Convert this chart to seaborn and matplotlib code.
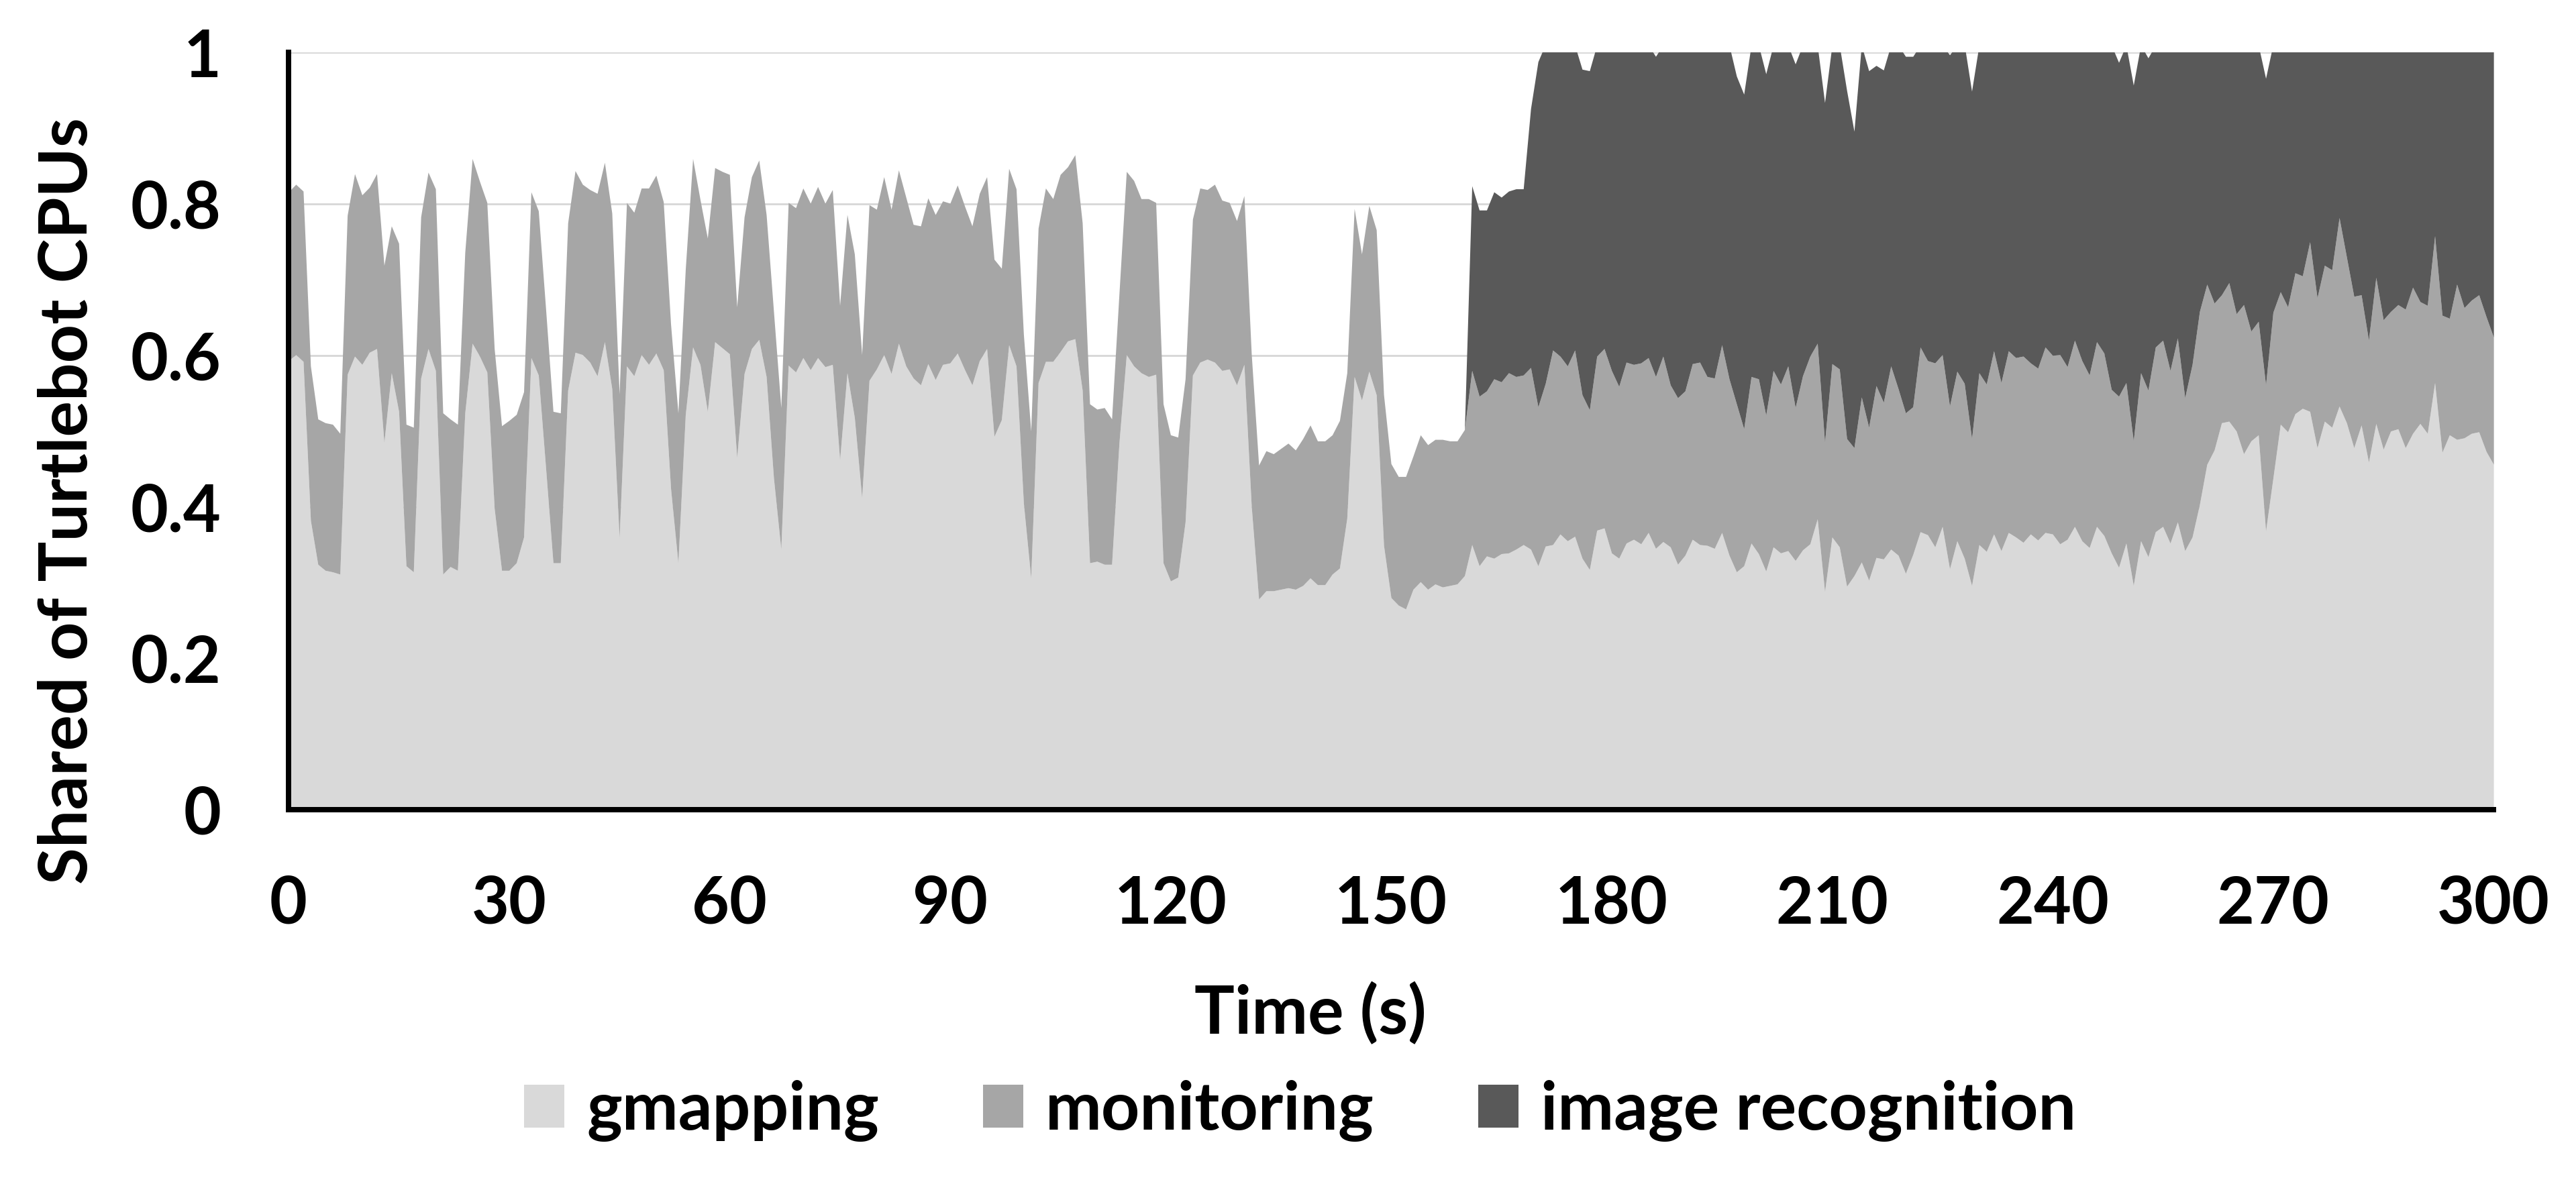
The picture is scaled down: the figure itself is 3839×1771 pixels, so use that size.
import numpy as np
import matplotlib
matplotlib.use("Agg")
import matplotlib.pyplot as plt
import seaborn as sns

# one sample per second, 0..300 s
time_s = np.arange(0, 301)

gmapping = [
    0.593, 0.601, 0.592, 0.382, 0.324, 0.316, 0.314, 0.311, 0.575, 0.599,
    0.588, 0.604, 0.609, 0.485, 0.577, 0.526, 0.322, 0.314, 0.570, 0.609,
    0.580, 0.311, 0.321, 0.316, 0.524, 0.616, 0.599, 0.578, 0.398, 0.316,
    0.316, 0.326, 0.360, 0.597, 0.574, 0.451, 0.326, 0.326, 0.554, 0.604,
    0.601, 0.591, 0.573, 0.618, 0.556, 0.359, 0.586, 0.573, 0.601, 0.588,
    0.603, 0.581, 0.424, 0.326, 0.522, 0.611, 0.588, 0.526, 0.618, 0.610,
    0.602, 0.465, 0.576, 0.609, 0.621, 0.572, 0.438, 0.344, 0.587, 0.578,
    0.597, 0.581, 0.597, 0.585, 0.588, 0.462, 0.577, 0.518, 0.412, 0.567,
    0.582, 0.601, 0.576, 0.616, 0.586, 0.570, 0.561, 0.589, 0.568, 0.588,
    0.590, 0.603, 0.581, 0.561, 0.593, 0.609, 0.493, 0.515, 0.614, 0.586,
    0.405, 0.306, 0.564, 0.592, 0.592, 0.605, 0.619, 0.622, 0.554, 0.326,
    0.328, 0.324, 0.324, 0.484, 0.601, 0.586, 0.577, 0.572, 0.575, 0.326,
    0.302, 0.307, 0.380, 0.574, 0.591, 0.595, 0.591, 0.580, 0.582, 0.561,
    0.588, 0.401, 0.278, 0.289, 0.289, 0.291, 0.293, 0.291, 0.296, 0.306,
    0.297, 0.297, 0.311, 0.319, 0.385, 0.572, 0.541, 0.579, 0.548, 0.349,
    0.280, 0.270, 0.265, 0.291, 0.301, 0.291, 0.298, 0.294, 0.296, 0.298,
    0.309, 0.350, 0.322, 0.335, 0.332, 0.338, 0.339, 0.344, 0.350, 0.344,
    0.322, 0.348, 0.350, 0.364, 0.355, 0.361, 0.332, 0.317, 0.369, 0.372,
    0.339, 0.332, 0.352, 0.357, 0.351, 0.366, 0.345, 0.354, 0.347, 0.324,
    0.336, 0.357, 0.350, 0.349, 0.345, 0.366, 0.336, 0.314, 0.322, 0.352,
    0.338, 0.315, 0.347, 0.339, 0.342, 0.329, 0.343, 0.351, 0.384, 0.288,
    0.360, 0.347, 0.295, 0.309, 0.327, 0.303, 0.333, 0.331, 0.344, 0.336,
    0.312, 0.337, 0.367, 0.363, 0.347, 0.374, 0.318, 0.355, 0.332, 0.296,
    0.350, 0.341, 0.364, 0.342, 0.366, 0.360, 0.353, 0.364, 0.356, 0.366,
    0.364, 0.351, 0.357, 0.374, 0.355, 0.346, 0.374, 0.362, 0.339, 0.320,
    0.352, 0.296, 0.355, 0.334, 0.367, 0.374, 0.352, 0.380, 0.342, 0.360,
    0.403, 0.456, 0.475, 0.511, 0.513, 0.500, 0.470, 0.487, 0.495, 0.368,
    0.438, 0.509, 0.499, 0.523, 0.530, 0.526, 0.478, 0.513, 0.505, 0.533,
    0.511, 0.478, 0.508, 0.459, 0.510, 0.476, 0.500, 0.503, 0.478, 0.497,
    0.510, 0.497, 0.564, 0.472, 0.495, 0.489, 0.491, 0.497, 0.499, 0.473,
    0.456,
]

monitoring = [
    0.223, 0.225, 0.225, 0.204, 0.192, 0.195, 0.195, 0.186, 0.210, 0.241,
    0.224, 0.218, 0.231, 0.234, 0.194, 0.222, 0.187, 0.191, 0.213, 0.233,
    0.240, 0.213, 0.195, 0.193, 0.212, 0.244, 0.231, 0.224, 0.211, 0.191,
    0.198, 0.196, 0.192, 0.219, 0.217, 0.210, 0.200, 0.198, 0.221, 0.240,
    0.225, 0.228, 0.241, 0.237, 0.232, 0.190, 0.216, 0.216, 0.220, 0.233,
    0.235, 0.222, 0.217, 0.198, 0.192, 0.249, 0.218, 0.229, 0.230, 0.233,
    0.237, 0.199, 0.207, 0.227, 0.237, 0.214, 0.220, 0.187, 0.215, 0.217,
    0.224, 0.220, 0.226, 0.216, 0.231, 0.204, 0.209, 0.216, 0.189, 0.232,
    0.211, 0.235, 0.217, 0.229, 0.223, 0.203, 0.210, 0.219, 0.218, 0.216,
    0.211, 0.222, 0.216, 0.210, 0.221, 0.227, 0.234, 0.200, 0.233, 0.234,
    0.223, 0.194, 0.204, 0.229, 0.215, 0.234, 0.230, 0.243, 0.221, 0.210,
    0.201, 0.207, 0.192, 0.197, 0.242, 0.245, 0.230, 0.235, 0.227, 0.210,
    0.193, 0.185, 0.189, 0.206, 0.230, 0.224, 0.235, 0.225, 0.220, 0.217,
    0.223, 0.201, 0.177, 0.185, 0.181, 0.186, 0.191, 0.184, 0.194, 0.202,
    0.190, 0.190, 0.184, 0.195, 0.192, 0.222, 0.193, 0.219, 0.218, 0.199,
    0.177, 0.170, 0.175, 0.176, 0.194, 0.191, 0.191, 0.195, 0.191, 0.189,
    0.193, 0.230, 0.224, 0.218, 0.237, 0.227, 0.238, 0.228, 0.224, 0.240,
    0.210, 0.215, 0.257, 0.235, 0.231, 0.246, 0.216, 0.211, 0.230, 0.237,
    0.241, 0.227, 0.239, 0.231, 0.239, 0.231, 0.227, 0.245, 0.214, 0.220,
    0.217, 0.232, 0.241, 0.223, 0.225, 0.248, 0.233, 0.222, 0.181, 0.220,
    0.231, 0.206, 0.233, 0.223, 0.244, 0.202, 0.230, 0.248, 0.232, 0.197,
    0.229, 0.235, 0.195, 0.169, 0.218, 0.202, 0.227, 0.207, 0.242, 0.220,
    0.212, 0.195, 0.244, 0.230, 0.243, 0.227, 0.215, 0.224, 0.231, 0.194,
    0.227, 0.221, 0.242, 0.222, 0.240, 0.237, 0.246, 0.226, 0.227, 0.245,
    0.236, 0.250, 0.228, 0.246, 0.238, 0.228, 0.244, 0.241, 0.216, 0.226,
    0.212, 0.191, 0.222, 0.220, 0.244, 0.246, 0.228, 0.243, 0.202, 0.228,
    0.255, 0.238, 0.194, 0.169, 0.183, 0.155, 0.197, 0.145, 0.150, 0.193,
    0.219, 0.175, 0.165, 0.186, 0.175, 0.224, 0.198, 0.206, 0.208, 0.249,
    0.219, 0.200, 0.172, 0.161, 0.193, 0.171, 0.158, 0.164, 0.183, 0.193,
    0.161, 0.169, 0.194, 0.181, 0.154, 0.205, 0.172, 0.176, 0.181, 0.178,
    0.168,
]

image_recognition = [
    0, 0, 0, 0, 0, 0, 0, 0, 0, 0, 0, 0, 0, 0, 0, 0, 0, 0, 0, 0,
    0, 0, 0, 0, 0, 0, 0, 0, 0, 0, 0, 0, 0, 0, 0, 0, 0, 0, 0, 0,
    0, 0, 0, 0, 0, 0, 0, 0, 0, 0, 0, 0, 0, 0, 0, 0, 0, 0, 0, 0,
    0, 0, 0, 0, 0, 0, 0, 0, 0, 0, 0, 0, 0, 0, 0, 0, 0, 0, 0, 0,
    0, 0, 0, 0, 0, 0, 0, 0, 0, 0, 0, 0, 0, 0, 0, 0, 0, 0, 0, 0,
    0, 0, 0, 0, 0, 0, 0, 0, 0, 0, 0, 0, 0, 0, 0, 0, 0, 0, 0, 0,
    0, 0, 0, 0, 0, 0, 0, 0, 0, 0, 0, 0, 0, 0, 0, 0, 0, 0, 0, 0,
    0, 0, 0, 0, 0, 0, 0, 0, 0, 0, 0, 0, 0, 0, 0, 0, 0, 0, 0, 0,
    0,
    0.244, 0.246, 0.239, 0.247, 0.244, 0.240, 0.248, 0.246, 0.342,
    0.456, 0.448, 0.403, 0.411, 0.424, 0.403, 0.430, 0.448, 0.411, 0.401,
    0.430, 0.451, 0.419, 0.423, 0.420, 0.413, 0.423, 0.411, 0.449, 0.466,
    0.457, 0.421, 0.419, 0.438, 0.440, 0.396, 0.441, 0.433, 0.442, 0.438,
    0.441, 0.451, 0.430, 0.448, 0.424, 0.454, 0.437, 0.411, 0.394, 0.449,
    0.421, 0.428, 0.460, 0.418, 0.465, 0.471, 0.423, 0.439, 0.424, 0.454,
    0.471, 0.463, 0.399, 0.418, 0.420, 0.409, 0.464, 0.431, 0.448, 0.459,
    0.433, 0.448, 0.404, 0.446, 0.404, 0.413, 0.411, 0.420, 0.427, 0.399,
    0.410, 0.409, 0.425, 0.390, 0.417, 0.436, 0.392, 0.407, 0.455, 0.441,
    0.446, 0.470, 0.433, 0.439, 0.399, 0.390, 0.430, 0.387, 0.466, 0.423,
    0.352, 0.316, 0.341, 0.330, 0.314, 0.355, 0.343, 0.378, 0.365, 0.405,
    0.354, 0.326, 0.346, 0.301, 0.305, 0.260, 0.334, 0.292, 0.298, 0.228,
    0.280, 0.332, 0.330, 0.390, 0.307, 0.363, 0.352, 0.343, 0.349, 0.321,
    0.339, 0.344, 0.252, 0.357, 0.361, 0.316, 0.347, 0.337, 0.330, 0.359,
    0.386,
]

series_names = ["gmapping", "monitoring", "image recognition"]
series_colors = ["#d9d9d9", "#a6a6a6", "#595959"]
x_ticks = [0, 30, 60, 90, 120, 150, 180, 210, 240, 270, 300]
y_ticks = [0, 0.2, 0.4, 0.6, 0.8, 1]
y_tick_labels = ["0", "0.2", "0.4", "0.6", "0.8", "1"]

sns.set_theme(style="white")
plt.rcParams["font.family"] = ["Lato", "DejaVu Sans"]
plt.rcParams["font.weight"] = "bold"
plt.rcParams["text.color"] = "black"
FS_TICK = 29
FS_LABEL = 30

fig = plt.figure(figsize=(3839 / 240, 1771 / 240), dpi=240)
ax = fig.add_axes([0.1120, 0.3185, 0.8560, 0.6372])

ax.stackplot(time_s, gmapping, monitoring, image_recognition,
             colors=series_colors, labels=series_names, linewidth=0)

ax.set_xlim(0, 300)
ax.set_ylim(0, 1)
ax.set_xticks(x_ticks)
ax.set_yticks(y_ticks, labels=y_tick_labels)
ax.yaxis.grid(True, color="#d9d9d9", linewidth=0.9)
ax.set_axisbelow(True)

sns.despine(ax=ax)
for side in ["left", "bottom"]:
    ax.spines[side].set_color("black")
    ax.spines[side].set_linewidth(2.4)
ax.tick_params(axis="both", direction="out", length=10, width=2.4,
               color="black", labelsize=FS_TICK, labelcolor="black")
ax.tick_params(axis="y", pad=20)
ax.tick_params(axis="x", pad=19)
for lab in ax.get_xticklabels() + ax.get_yticklabels():
    lab.set_fontweight("bold")

fig.text(0.5087, 1 - 1541 / 1771, "Time (s)", ha="center", va="baseline",
         fontsize=FS_LABEL, fontweight="bold", color="black")
fig.text(130 / 3839, 1 - 747 / 1771, "Shared of Turtlebot CPUs", rotation=90,
         rotation_mode="anchor", ha="center", va="baseline",
         fontsize=FS_LABEL, fontweight="bold", color="black")

handles, labels = ax.get_legend_handles_labels()
leg = fig.legend(handles, labels, loc="center", bbox_to_anchor=(0.5047, 1 - 1656 / 1771),
                 ncol=3, frameon=False, prop={"size": FS_LABEL, "weight": "bold"},
                 handlelength=0.6, handleheight=0.6, handletextpad=0.33,
                 columnspacing=1.55)
for txt in leg.get_texts():
    txt.set_color("black")

fig.savefig("out.png", dpi=240, facecolor="white")
